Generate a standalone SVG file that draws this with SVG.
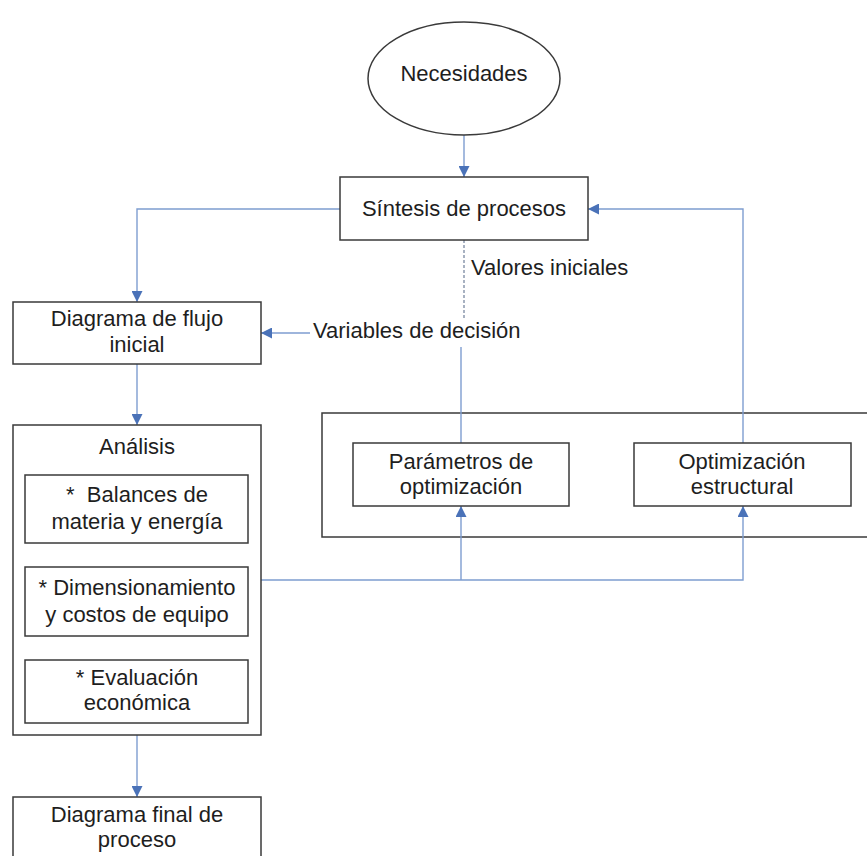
<svg xmlns="http://www.w3.org/2000/svg" width="867" height="856" viewBox="0 0 867 856">
  <style>
    .box { fill: #ffffff; stroke: #3a3a3a; stroke-width: 1.5; }
    .frame { fill: none; stroke: #3a3a3a; stroke-width: 1.5; }
    .t { font-family: "Liberation Sans", Arial, sans-serif; font-size: 22px; fill: #1e1e1e; text-anchor: middle; }
    .tl { font-family: "Liberation Sans", Arial, sans-serif; font-size: 22px; fill: #1e1e1e; }
    .c { fill: none; stroke: #7e9dd0; stroke-width: 1.4; }
    .dash { fill: none; stroke: #6f7f99; stroke-width: 1.2; stroke-dasharray: 3 2; }
  </style>
  <defs>
    <marker id="arr" viewBox="0 0 10 10" refX="10" refY="5" markerWidth="11" markerHeight="11" markerUnits="userSpaceOnUse" orient="auto">
      <path d="M0,0 L10,5 L0,10 z" fill="#4a72b8"/>
    </marker>
  </defs>
  <rect width="867" height="856" fill="#ffffff"/>

  <!-- group frame around the two optimisation blocks (no fill so links pass through) -->
  <g id="optimizacion-grupo">
    <rect class="frame" x="322" y="413" width="560" height="124"/>
  </g>

  <g id="connectors">
    <line class="c" x1="464" y1="135" x2="464" y2="177" marker-end="url(#arr)"/>
    <polyline class="c" points="340,209 137,209 137,302" marker-end="url(#arr)"/>
    <line class="dash" x1="464" y1="240" x2="464" y2="318"/>
    <line class="c" x1="310" y1="333" x2="261" y2="333" marker-end="url(#arr)"/>
    <line class="c" x1="461" y1="347" x2="461" y2="443"/>
    <line class="c" x1="137" y1="364" x2="137" y2="425" marker-end="url(#arr)"/>
    <line class="c" x1="137" y1="735" x2="137" y2="797" marker-end="url(#arr)"/>
    <polyline class="c" points="261,580 743,580 743,506" marker-end="url(#arr)"/>
    <line class="c" x1="461" y1="580" x2="461" y2="506" marker-end="url(#arr)"/>
    <polyline class="c" points="743,443 743,209 588,209" marker-end="url(#arr)"/>
  </g>

  <g id="necesidades">
    <ellipse class="box" cx="464" cy="78.5" rx="96" ry="56.5"/>
    <text class="t" x="464" y="81">Necesidades</text>
  </g>

  <g id="sintesis">
    <rect class="box" x="340" y="177" width="248" height="63"/>
    <text class="t" x="464" y="216">Síntesis de procesos</text>
  </g>

  <g id="valores-label">
    <text class="tl" x="471" y="275">Valores iniciales</text>
  </g>

  <g id="variables-label">
    <text class="tl" x="313" y="338">Variables de decisión</text>
  </g>

  <g id="diagrama-inicial">
    <rect class="box" x="13" y="302" width="248" height="62"/>
    <text class="t" x="137" y="326">Diagrama de flujo</text>
    <text class="t" x="137" y="352">inicial</text>
  </g>

  <g id="parametros">
    <rect class="box" x="353" y="443" width="216" height="63"/>
    <text class="t" x="461" y="469">Parámetros de</text>
    <text class="t" x="461" y="494">optimización</text>
  </g>

  <g id="estructural">
    <rect class="box" x="634" y="443" width="217" height="63"/>
    <text class="t" x="742" y="469">Optimización</text>
    <text class="t" x="742" y="494">estructural</text>
  </g>

  <g id="analisis">
    <rect class="box" x="13" y="425" width="248" height="310"/>
    <text class="t" x="137" y="454">Análisis</text>
  </g>

  <g id="balances">
    <rect class="box" x="25" y="475" width="223" height="68"/>
    <text class="t" x="137" y="502" xml:space="preserve">*  Balances de</text>
    <text class="t" x="137" y="529">materia y energía</text>
  </g>

  <g id="dimensionamiento">
    <rect class="box" x="25" y="567" width="223" height="69"/>
    <text class="t" x="137" y="595">* Dimensionamiento</text>
    <text class="t" x="137" y="622">y costos de equipo</text>
  </g>

  <g id="evaluacion">
    <rect class="box" x="25" y="660" width="223" height="63"/>
    <text class="t" x="137" y="685">* Evaluación</text>
    <text class="t" x="137" y="710">económica</text>
  </g>

  <g id="diagrama-final">
    <rect class="box" x="13" y="797" width="248" height="70"/>
    <text class="t" x="137" y="822">Diagrama final de</text>
    <text class="t" x="137" y="847">proceso</text>
  </g>
</svg>
